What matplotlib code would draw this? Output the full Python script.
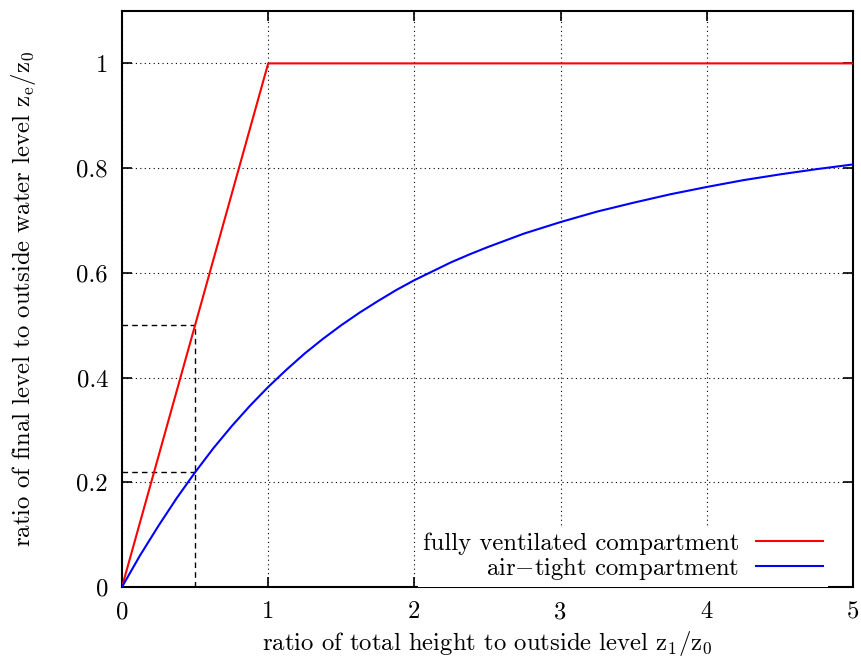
import matplotlib
matplotlib.use('Agg')
import matplotlib.pyplot as plt
from matplotlib.ticker import FuncFormatter

plt.rcParams['font.family'] = ['cmr10', 'DejaVu Serif']
plt.rcParams['mathtext.fontset'] = 'cm'
plt.rcParams['axes.formatter.use_mathtext'] = True

# fully ventilated compartment (red)
vent_x = [0.0, 1.0, 5.0]
vent_y = [0.0, 1.0, 1.0]

# air-tight compartment (blue)
tight_x = [0.0, 0.125, 0.25, 0.375, 0.5, 0.625, 0.75, 0.875, 1.0, 1.125, 1.25,
           1.375, 1.5, 1.625, 1.75, 1.875, 2.0, 2.125, 2.25, 2.375, 2.5,
           2.75, 3.0, 3.25, 3.5, 3.75, 4.0, 4.25, 4.5, 4.75, 5.0]
tight_y = [0.0, 0.061, 0.117, 0.170, 0.219, 0.265, 0.307, 0.346, 0.382, 0.415,
           0.446, 0.474, 0.500, 0.524, 0.546, 0.567, 0.586, 0.603, 0.620,
           0.635, 0.649, 0.675, 0.697, 0.717, 0.734, 0.750, 0.764, 0.777,
           0.788, 0.798, 0.807]

# example point marked with dashed guides
mark_x = 0.5
mark_vent = 0.5
mark_tight = 0.219

fig = plt.figure(figsize=(8.62, 6.60), dpi=100)
ax = fig.add_axes([0.1415, 0.1106, 0.8481, 0.8727])

ax.grid(True, color='black', linestyle=(0, (1, 3)), linewidth=0.8)
ax.set_axisbelow(True)

dash = dict(color='black', linewidth=1.0, linestyle=(0, (4, 3)), zorder=2)
ax.plot([0, mark_x], [mark_vent, mark_vent], **dash)
ax.plot([0, mark_x], [mark_tight, mark_tight], **dash)
ax.plot([mark_x, mark_x], [0, mark_vent], **dash)

ax.plot(vent_x, vent_y, color='#ff0000', linewidth=1.5, label='fully ventilated compartment', zorder=3)
ax.plot(tight_x, tight_y, color='#0000ff', linewidth=1.5, label='air$-$tight compartment', zorder=3)

ax.set_xlim(0, 5)
ax.set_ylim(0, 1.1)
ax.set_xticks([0, 1, 2, 3, 4, 5])
ax.set_yticks([0, 0.2, 0.4, 0.6, 0.8, 1.0])
ax.yaxis.set_major_formatter(FuncFormatter(lambda v, p: '%g' % v))
ax.xaxis.set_major_formatter(FuncFormatter(lambda v, p: '%g' % v))
ax.tick_params(direction='in', top=True, right=True, length=7, width=1.2,
               labelsize=17.8, pad=10)
for s in ax.spines.values():
    s.set_linewidth(1.5)

ax.set_xlabel(r'ratio of total height to outside level $\mathrm{z_1/z_0}$', fontsize=17.8, labelpad=4)
ax.set_ylabel(r'ratio of final level to outside water level $\mathrm{z_e/z_0}$', fontsize=17.8, labelpad=28)

leg = ax.legend(loc='lower right', bbox_to_anchor=(0.966, 0.0), markerfirst=False,
                frameon=True, fancybox=False, framealpha=1, fontsize=17.8,
                handlelength=2.7, handletextpad=0.7, borderaxespad=0.0,
                labelspacing=0.0, borderpad=0.2)
leg.get_frame().set_edgecolor('none')
leg.get_frame().set_facecolor('white')
for t in leg.get_texts():
    t.set_ha('right')
leg._legend_box.align = 'right'
leg.set_zorder(4)

fig.savefig('out.png', dpi=100)
